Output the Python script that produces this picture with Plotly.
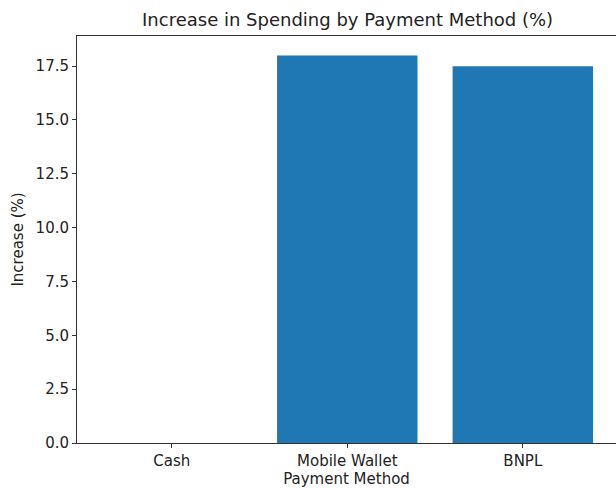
import plotly.graph_objects as go

categories = ["Cash", "Mobile Wallet", "BNPL"]
increase_pct = [0.0, 18.0, 17.5]
y_ticks = [0, 2.5, 5, 7.5, 10, 12.5, 15, 17.5]
y_tick_labels = ["0.0", "2.5", "5.0", "7.5", "10.0", "12.5", "15.0", "17.5"]

fig = go.Figure(go.Bar(
    x=categories, y=increase_pct, width=0.8,
    marker=dict(color="#1f77b4", line=dict(width=0)),
))

font = "DejaVu Sans, sans-serif"
fig.update_layout(
    width=616, height=488,
    margin=dict(l=77, r=0, t=36, b=45),
    paper_bgcolor="white", plot_bgcolor="white",
    font=dict(family=font, size=15, color="#222"),
    showlegend=False,
    title=dict(text="Increase in Spending by Payment Method (%)",
               x=0.502, xref="paper", xanchor="center",
               y=1 - 20 / 488, yref="container", yanchor="middle",
               font=dict(size=18, color="#222")),
    xaxis=dict(type="category", range=[-0.54, 2.531],
               showline=True, linecolor="#333", linewidth=1, mirror=True,
               ticks="outside", ticklen=4, tickcolor="#333",
               showgrid=False, zeroline=False,
               title=dict(text="Payment Method", standoff=0, font=dict(size=15))),
    yaxis=dict(range=[0, 18.9], tickvals=y_ticks, ticktext=y_tick_labels,
               showline=True, linecolor="#333", linewidth=1, mirror=False,
               ticks="outside", ticklen=4, tickcolor="#333",
               showgrid=False, zeroline=False,
               title=dict(text="Increase (%)", standoff=8, font=dict(size=15))),
)

fig.write_html("out.html",
               config={"displayModeBar": False},
               post_script="document.body.style.margin='0';document.body.style.overflow='hidden';")
